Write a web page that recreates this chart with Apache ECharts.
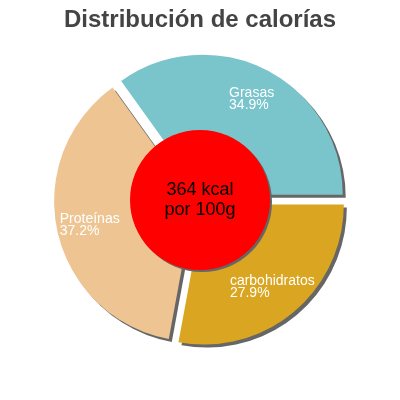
<!DOCTYPE html>
<html>
<head>
<meta charset="utf-8">
<script src="https://cdn.jsdelivr.net/npm/echarts@6/dist/echarts.min.js"></script>
<style>html,body{margin:0;padding:0;background:#fff}#c{width:400px;height:400px}</style>
</head>
<body>
<div id="c"></div>
<script>
var titleText = 'Distribución de calorías';
var categories = ['Grasas', 'Proteínas', 'carbohidratos'];
var percents = [34.9, 37.2, 27.9];
var colors = ['#7ac4cc', '#eec592', '#daa520'];
var centerLines = ['364 kcal', 'por 100g'];

var FONT = '"Liberation Sans", Arial, sans-serif';
var chart = echarts.init(document.getElementById('c'), null, {renderer: 'canvas'});

var pieData = categories.map(function (c, i) {
  return {name: c, value: percents[i], selected: true, itemStyle: {color: colors[i]}};
});
var labelData = categories.map(function (c, i) {
  return {name: c, value: percents[i], selected: true};
});

chart.setOption({
  animation: false,
  title: {
    text: titleText,
    left: 'center',
    top: 3,
    textStyle: {fontFamily: FONT, fontSize: 24, fontWeight: 'bold', color: '#444444'}
  },
  series: [
    {
      type: 'pie',
      center: ['50%', '50%'],
      radius: [0, 140],
      startAngle: 0,
      clockwise: false,
      selectedMode: 'multiple',
      selectedOffset: 6,
      silent: true,
      label: {show: false},
      labelLine: {show: false},
      itemStyle: {shadowColor: '#666666', shadowOffsetX: 3, shadowOffsetY: 3, shadowBlur: 0},
      emphasis: {disabled: true},
      data: pieData
    },
    {
      type: 'pie',
      center: ['50%', '50%'],
      radius: [0, 70],
      silent: true,
      z: 3,
      itemStyle: {color: '#ff0000', shadowColor: '#666666', shadowOffsetX: 2, shadowOffsetY: 2, shadowBlur: 0},
      label: {
        show: true,
        position: 'center',
        formatter: centerLines.join('\n'),
        fontFamily: FONT,
        fontSize: 18,
        lineHeight: 20,
        color: '#000000'
      },
      labelLine: {show: false},
      emphasis: {disabled: true},
      data: [{name: 'kcal', value: 1}]
    },
    {
      type: 'pie',
      center: ['50%', '50%'],
      radius: [68, 140],
      startAngle: 0,
      clockwise: false,
      selectedMode: 'multiple',
      selectedOffset: 6,
      silent: true,
      z: 4,
      itemStyle: {color: 'rgba(0,0,0,0)'},
      label: {
        show: true,
        position: 'inside',
        color: '#ffffff',
        fontFamily: FONT,
        fontSize: 14,
        lineHeight: 12,
        formatter: function (p) {
          return '{n|' + p.name + '}\n{n|' + p.value.toFixed(1) + '%}';
        },
        rich: {
          n: {align: 'left', color: '#ffffff', fontFamily: FONT, fontSize: 14, lineHeight: 12}
        }
      },
      labelLine: {show: false},
      emphasis: {disabled: true},
      data: labelData
    }
  ]
});
</script>
</body>
</html>
